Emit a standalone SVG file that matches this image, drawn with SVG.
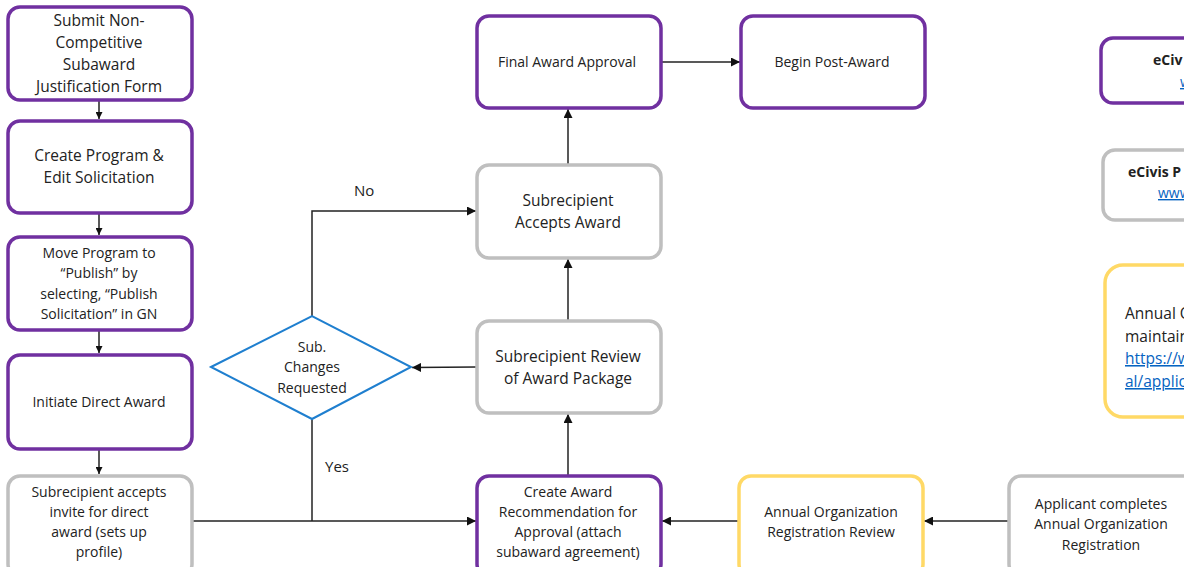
<svg xmlns="http://www.w3.org/2000/svg" width="1184" height="567" viewBox="0 0 1184 567">
<style>
.box{fill:#fff;stroke-width:3.5}
.p{stroke:#7030a0}
.g{stroke:#bfbfbf}
.y{stroke:#ffd966}
text{font-family:"Open Sans","Liberation Sans",sans-serif;font-size:14px;fill:#222;text-anchor:middle}
.big{font-size:15.5px}
.lbl{text-anchor:start;font-size:15px}
.l{text-anchor:start}
.b{font-weight:bold}
.link{fill:#0563c1;text-decoration:underline}
.c{fill:none;stroke:#222;stroke-width:1.5}
</style>
<defs>
<marker id="ah" viewBox="0 0 10 10" refX="10" refY="5" markerWidth="7" markerHeight="7" orient="auto" markerUnits="userSpaceOnUse">
<path d="M0,0L10,5L0,10z" fill="#111"/>
</marker>
<marker id="ah2" viewBox="0 0 10 10" refX="10" refY="5" markerWidth="9" markerHeight="9" orient="auto" markerUnits="userSpaceOnUse">
<path d="M0,0L10,5L0,10z" fill="#111"/>
</marker>
</defs>
<rect width="1184" height="567" fill="#fff"/>
<g id="connectors">
<line class="c" x1="99" y1="100" x2="99" y2="119" marker-end="url(#ah)"/>
<line class="c" x1="99" y1="213" x2="99" y2="235" marker-end="url(#ah)"/>
<line class="c" x1="99" y1="330" x2="99" y2="353" marker-end="url(#ah)"/>
<line class="c" x1="99" y1="449" x2="99" y2="474" marker-end="url(#ah)"/>
<line class="c" x1="192" y1="521" x2="476" y2="521" marker-end="url(#ah2)"/>
<polyline class="c" points="312,419 312,521"/>
<polyline class="c" points="312,316 312,211 476,211" marker-end="url(#ah2)"/>
<line class="c" x1="477" y1="367" x2="412" y2="367.5" marker-end="url(#ah2)"/>
<line class="c" x1="568" y1="321" x2="568" y2="259" marker-end="url(#ah2)"/>
<line class="c" x1="568" y1="165" x2="568" y2="109" marker-end="url(#ah2)"/>
<line class="c" x1="661" y1="62" x2="740" y2="62" marker-end="url(#ah2)"/>
<line class="c" x1="568" y1="476" x2="568" y2="414" marker-end="url(#ah2)"/>
<line class="c" x1="739" y1="521" x2="662" y2="521" marker-end="url(#ah2)"/>
<line class="c" x1="1009" y1="521" x2="924" y2="521" marker-end="url(#ah2)"/>
<text class="lbl" x="354" y="196">No</text>
<text class="lbl" x="325" y="472">Yes</text>
</g>
<g id="n1"><rect class="box p" x="8" y="7" width="184" height="93" rx="12"/>
<text class="big" x="99" y="26">Submit Non-</text><text class="big" x="99" y="48">Competitive</text><text class="big" x="99" y="70">Subaward</text><text class="big" x="99" y="92">Justification Form</text></g>
<g id="n2"><rect class="box p" x="8" y="121" width="184" height="92" rx="12"/>
<text class="big" x="99" y="161">Create Program &amp;</text><text class="big" x="99" y="183">Edit Solicitation</text></g>
<g id="n3"><rect class="box p" x="8" y="237" width="184" height="93" rx="12"/>
<text x="99" y="258">Move Program to</text><text x="99" y="278">“Publish” by</text><text x="99" y="299">selecting, “Publish</text><text x="99" y="319">Solicitation” in GN</text></g>
<g id="n4"><rect class="box p" x="8" y="355" width="184" height="94" rx="12"/>
<text x="99" y="407">Initiate Direct Award</text></g>
<g id="n5"><rect class="box g" x="8" y="476" width="184" height="100" rx="12"/>
<text x="99" y="497">Subrecipient accepts</text><text x="99" y="517">invite for direct</text><text x="99" y="537">award (sets up</text><text x="99" y="557">profile)</text></g>
<g id="decision"><polygon points="211,367 312,316 411,367 312,419" fill="#fff" stroke="#1f7fcf" stroke-width="2"/>
<text x="312" y="352">Sub.</text><text x="312" y="372">Changes</text><text x="312" y="393">Requested</text></g>
<g id="n6"><rect class="box p" x="477" y="16" width="184" height="92" rx="12"/>
<text x="567" y="67">Final Award Approval</text></g>
<g id="n7"><rect class="box p" x="741" y="16" width="184" height="92" rx="12"/>
<text x="832" y="67">Begin Post-Award</text></g>
<g id="n8"><rect class="box g" x="477" y="165" width="184" height="93" rx="12"/>
<text class="big" x="568" y="206">Subrecipient</text><text class="big" x="568" y="228">Accepts Award</text></g>
<g id="n9"><rect class="box g" x="477" y="321" width="184" height="92" rx="12"/>
<text class="big" x="568" y="362">Subrecipient Review</text><text class="big" x="568" y="384">of Award Package</text></g>
<g id="n10"><rect class="box p" x="477" y="476" width="184" height="100" rx="12"/>
<text x="568" y="497">Create Award</text><text x="568" y="517">Recommendation for</text><text x="568" y="537">Approval (attach</text><text x="568" y="557">subaward agreement)</text></g>
<g id="n11"><rect class="box y" x="739" y="476" width="184" height="100" rx="12"/>
<text x="831" y="517">Annual Organization</text><text x="831" y="537">Registration Review</text></g>
<g id="n12"><rect class="box g" x="1009" y="476" width="190" height="100" rx="12"/>
<text x="1101" y="509">Applicant completes</text><text x="1101" y="529">Annual Organization</text><text x="1101" y="550">Registration</text></g>
<g id="r1"><rect class="box p" x="1101" y="38" width="110" height="65" rx="12"/>
<text class="l b" x="1153" y="65">eCiv</text><text class="l link" x="1180" y="87">w</text></g>
<g id="r2"><rect class="box g" x="1103" y="150" width="110" height="70" rx="12"/>
<text class="l b" x="1128" y="177">eCivis P</text><text class="l link" x="1158" y="198">www</text></g>
<g id="r3"><rect class="box y" x="1105" y="265" width="110" height="152" rx="18"/>
<text class="l big" x="1125" y="319">Annual O</text><text class="l big" x="1125" y="342">maintain</text><text class="l big link" x="1125" y="364">https://w</text><text class="l big link" x="1125" y="387">al/applic</text></g>
</svg>
